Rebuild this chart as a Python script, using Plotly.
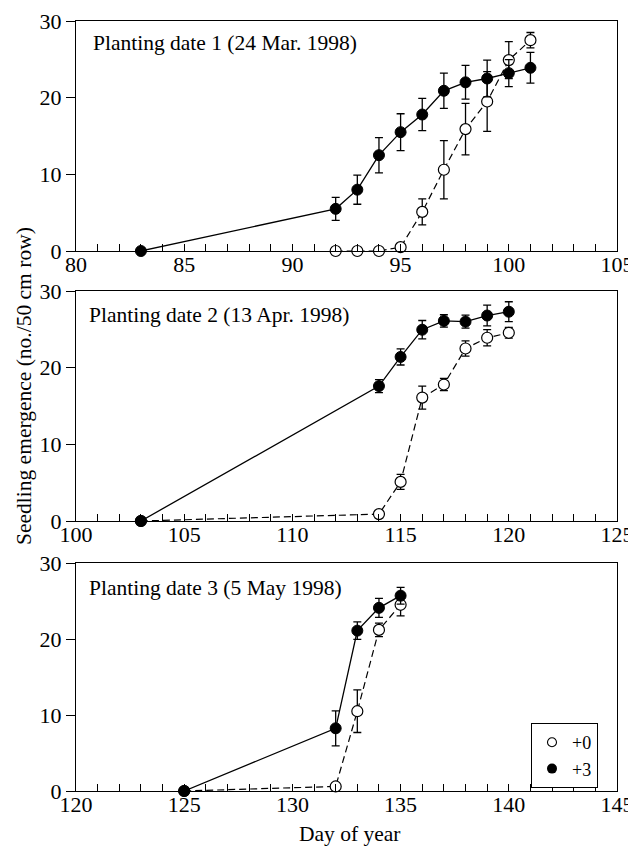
import plotly.graph_objects as go

# ---- data ----
p1_days_plus3 = [83, 92, 93, 94, 95, 96, 97, 98, 99, 100, 101]
p1_plus3 = [0, 5.5, 8.0, 12.5, 15.5, 17.8, 20.9, 22.0, 22.5, 23.2, 23.9]
p1_plus3_err = [None, 1.5, 1.9, 2.3, 2.4, 2.1, 2.3, 2.2, 2.4, 1.75, 2.0]
p1_days_plus0 = [92, 93, 94, 95, 96, 97, 98, 99, 100, 101]
p1_plus0 = [0, 0, 0, 0.5, 5.1, 10.6, 15.9, 19.5, 24.9, 27.5]
p1_plus0_err = [None, None, None, None, 1.7, 3.8, 3.35, 3.9, 2.4, 1.0]

p2_days = [103, 114, 115, 116, 117, 118, 119, 120]
p2_plus3 = [0, 17.6, 21.4, 24.95, 26.1, 26.0, 26.8, 27.3]
p2_plus3_err = [None, 0.85, 1.05, 1.2, 0.8, 0.85, 1.35, 1.3]
p2_plus0 = [0, 0.9, 5.1, 16.1, 17.8, 22.5, 23.9, 24.55]
p2_plus0_err = [None, None, 0.97, 1.5, 0.8, 1.0, 1.05, 0.7]

p3_days = [125, 132, 133, 134, 135]
p3_plus3 = [0, 8.25, 21.1, 24.1, 25.7]
p3_plus3_err = [None, 2.3, 1.15, 1.25, 1.1]
p3_plus0 = [0, 0.6, 10.5, 21.2, 24.5]
p3_plus0_err = [None, None, 2.8, 0.9, 1.45]

x_ranges = [[80, 105], [100, 125], [120, 145]]
panel_titles = ["Planting date 1 (24 Mar. 1998)",
                "Planting date 2 (13 Apr. 1998)",
                "Planting date 3 (5 May 1998)"]
legend_names = ["+0", "+3"]
y_title = "Seedling emergence (no./50 cm row)"
x_title = "Day of year"

FONT = "Liberation Serif"
BLACK = "black"
TEXT_SIZE = 21.5
TICK_SIZE = 22

panels = [
    (p1_days_plus0, p1_plus0, p1_plus0_err, p1_days_plus3, p1_plus3, p1_plus3_err),
    (p2_days, p2_plus0, p2_plus0_err, p2_days, p2_plus3, p2_plus3_err),
    (p3_days, p3_plus0, p3_plus0_err, p3_days, p3_plus3, p3_plus3_err),
]

# page layout: the page body adds an 8px offset, so figure = page - OFF
OFF = 8
PAGE_W, PAGE_H = 636, 848
W, H = PAGE_W - OFF, PAGE_H - OFF
PL, PR, PT, PB = 76, 617, 21, 791          # plot area edges in page px
L, R, T, B = PL - OFF, PAGE_W - PR, PT - OFF, PAGE_H - PB
plot_w = PR - PL
plot_h = PB - PT
panel_px = [(21, 251), (291, 521), (563, 791)]  # top, bottom in page px
domains = [[(PB - b) / plot_h, (PB - t) / plot_h] for t, b in panel_px]

fig = go.Figure()

for i, (d0, v0, e0, d3, v3, e3) in enumerate(panels):
    xa = "x" if i == 0 else f"x{i+1}"
    ya = "y" if i == 0 else f"y{i+1}"
    fig.add_trace(go.Scatter(
        x=d0, y=v0, mode="lines+markers", xaxis=xa, yaxis=ya, showlegend=False,
        line=dict(color=BLACK, width=1.2, dash="7px,4px"),
        marker=dict(symbol="circle", size=11, color="white", line=dict(color=BLACK, width=1.2)),
        error_y=dict(type="data", array=e0, visible=True, color=BLACK, thickness=1.3, width=4),
        cliponaxis=False,
    ))
    fig.add_trace(go.Scatter(
        x=d3, y=v3, mode="lines+markers", xaxis=xa, yaxis=ya, showlegend=False,
        line=dict(color=BLACK, width=1.3),
        marker=dict(symbol="circle", size=11, color=BLACK, line=dict(color=BLACK, width=1)),
        error_y=dict(type="data", array=e3, visible=True, color=BLACK, thickness=1.3, width=4),
        cliponaxis=False,
    ))

# legend-only traces
fig.add_trace(go.Scatter(x=[None], y=[None], mode="markers", name=legend_names[0],
                         xaxis="x3", yaxis="y3",
                         marker=dict(symbol="circle", size=9, color="white", line=dict(color=BLACK, width=1.1))))
fig.add_trace(go.Scatter(x=[None], y=[None], mode="markers", name=legend_names[1],
                         xaxis="x3", yaxis="y3",
                         marker=dict(symbol="circle", size=10, color=BLACK)))

axis_common = dict(showline=True, linecolor=BLACK, linewidth=1.3, mirror=True,
                   showgrid=False, zeroline=False, automargin=False,
                   tickfont=dict(family=FONT, size=TICK_SIZE, color=BLACK))

layout = dict(
    template="none",
    width=W, height=H,
    margin=dict(l=L, r=R, t=T, b=B, autoexpand=False),
    paper_bgcolor="white", plot_bgcolor="white",
    font=dict(family=FONT, size=TEXT_SIZE, color=BLACK),
    legend=dict(x=(531 - PL) / plot_w, y=(PB - 723) / plot_h, xanchor="left", yanchor="top",
                bordercolor=BLACK, borderwidth=1, bgcolor="white",
                font=dict(family=FONT, size=18, color=BLACK),
                itemwidth=30, tracegroupgap=0),
    annotations=[],
)

for i in range(3):
    xk = "xaxis" if i == 0 else f"xaxis{i+1}"
    yk = "yaxis" if i == 0 else f"yaxis{i+1}"
    ok = f"yaxis{i+4}"
    ya = "y" if i == 0 else f"y{i+1}"
    xa = "x" if i == 0 else f"x{i+1}"
    layout[xk] = dict(axis_common, range=x_ranges[i], anchor=ya,
                      tickmode="linear", tick0=x_ranges[i][0], dtick=5,
                      ticks="inside", ticklen=7, tickwidth=1.2, tickcolor=BLACK,
                      ticklabelstandoff=-7,
                      minor=dict(ticks="inside", dtick=1, ticklen=7, tickwidth=1.2, tickcolor=BLACK))
    layout[yk] = dict(axis_common, range=[0, 30], domain=domains[i], anchor=xa,
                      tickmode="linear", tick0=0, dtick=10,
                      ticks="outside", ticklen=9, tickwidth=1.2, tickcolor=BLACK)
    # overlay axis supplying the inside tick marks every 5 units
    layout[ok] = dict(range=[0, 30], overlaying=ya, anchor=xa, side="left",
                      showline=False, showgrid=False, zeroline=False, automargin=False,
                      showticklabels=False, tickmode="linear", tick0=0, dtick=5,
                      ticks="inside", ticklen=9, tickwidth=1.2, tickcolor=BLACK)

title_pos = [(93, 43), (89, 315), (89, 588)]   # page px
for i, (px, py) in enumerate(title_pos):
    xa = "x" if i == 0 else f"x{i+1}"
    ya = "y" if i == 0 else f"y{i+1}"
    t, b = panel_px[i]
    layout["annotations"].append(dict(
        text=panel_titles[i], xref=f"{xa} domain", yref=f"{ya} domain",
        x=(px - PL) / plot_w, y=(b - py) / (b - t), xanchor="left", yanchor="middle",
        xshift=-2, showarrow=False, font=dict(family=FONT, size=TEXT_SIZE, color=BLACK)))

layout["annotations"].append(dict(
    text=y_title, xref="paper", yref="paper", x=(24 - PL) / plot_w, y=(PB - 386) / plot_h,
    xanchor="center", yanchor="middle", textangle=-90, showarrow=False,
    font=dict(family=FONT, size=TEXT_SIZE, color=BLACK)))
layout["annotations"].append(dict(
    text=x_title, xref="paper", yref="paper", x=(349 - PL) / plot_w, y=(PB - 820) / plot_h,
    xanchor="center", yanchor="top", showarrow=False,
    font=dict(family=FONT, size=TEXT_SIZE, color=BLACK)))

fig.update_layout(**layout)
fig.write_html("out.html")
